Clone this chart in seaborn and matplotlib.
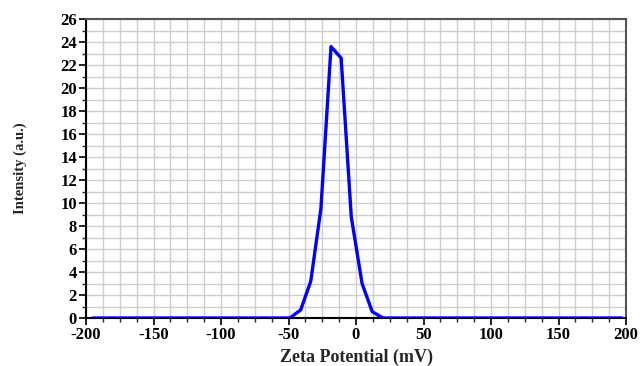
import matplotlib
matplotlib.use("Agg")
import matplotlib.pyplot as plt
import seaborn as sns
import pandas as pd
from matplotlib.ticker import MultipleLocator

zeta_mv = [-195, -49, -41, -33.5, -26, -18.5, -11, -3.5, 4.5, 12, 20, 197]
intensity = [0, 0, 0.7, 3.2, 9.5, 23.6, 22.6, 8.8, 3.0, 0.55, 0, 0]

df = pd.DataFrame({"Zeta Potential (mV)": zeta_mv, "Intensity (a.u.)": intensity})

sns.set_theme(style="white")
plt.rcParams['font.family'] = ['Liberation Serif', 'DejaVu Serif']
plt.rcParams['axes.unicode_minus'] = False

fig = plt.figure(figsize=(6.44, 3.66), dpi=100)
ax = fig.add_axes([86/644, 1-318/366, 540/644, 299/366])

sns.lineplot(data=df, x="Zeta Potential (mV)", y="Intensity (a.u.)", ax=ax,
             color="#0000ff", linewidth=2.4, sort=False, zorder=3)

ax.set_xlim(-200, 200)
ax.set_ylim(0, 26)
ax.xaxis.set_major_locator(MultipleLocator(50))
ax.xaxis.set_minor_locator(MultipleLocator(12.5))
ax.yaxis.set_major_locator(MultipleLocator(2))
ax.yaxis.set_minor_locator(MultipleLocator(1))
ax.grid(which='both', color='#cfcfcf', linewidth=1.0)
ax.set_axisbelow(True)

ax.tick_params(axis='both', which='major', direction='out', length=5, width=1.2,
               labelsize=12, colors='black', bottom=True, left=True, pad=1.5)
ax.tick_params(axis='both', which='minor', direction='out', length=3, width=1.0,
               bottom=True, left=True)
for lbl in ax.get_xticklabels() + ax.get_yticklabels():
    lbl.set_fontweight('bold')

for s in ['left', 'bottom']:
    ax.spines[s].set_color('black')
    ax.spines[s].set_linewidth(1.5)
for s in ['top', 'right']:
    ax.spines[s].set_color('#555555')
    ax.spines[s].set_linewidth(1.5)

ax.set_xlabel("Zeta Potential (mV)", fontsize=13, fontweight='bold')
ax.xaxis.set_label_coords(0.5, -31/299)
ax.set_ylabel("Intensity (a.u.)", fontsize=10.5, fontweight='bold')
ax.yaxis.set_label_coords(-59/540, 0.5)

fig.savefig("out.png", dpi=100)
